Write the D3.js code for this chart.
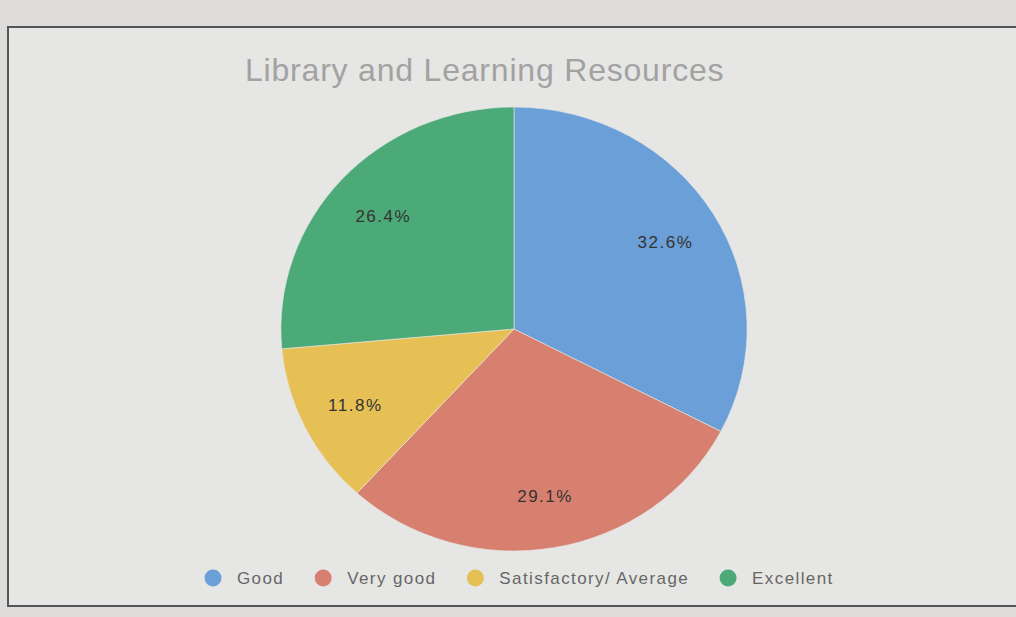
<!DOCTYPE html>
<meta charset="utf-8">
<style>
body { margin: 0; background: #dcdcda; }
text { font-family: Arial, "Liberation Sans", sans-serif; }
</style>
<body>
<div id="chart"></div>
</body>
<script src="https://cdn.jsdelivr.net/npm/d3@7"></script>
<script>
// chart data
var categories = ["Good", "Very good", "Satisfactory/ Average", "Excellent"];
var values = [32.6, 29.1, 11.8, 26.4];
var labels = ["32.6%", "29.1%", "11.8%", "26.4%"];
var colours = ["#6a9fd8", "#d8806f", "#e7c055", "#4caa78"];
var title = "Library and Learning Resources";

var width = 1016, height = 617;
var cx = 514, cy = 329, radius = 222;

var svg = d3.select("#chart").append("svg")
    .attr("width", width)
    .attr("height", height);

// card with frame like the photographed screen
svg.append("rect")
    .attr("x", 0).attr("y", 0)
    .attr("width", width).attr("height", height)
    .attr("fill", "#dedddb");
svg.append("rect")
    .attr("x", 8).attr("y", 27)
    .attr("width", width + 20).attr("height", 579)
    .attr("fill", "#e6e6e4")
    .attr("stroke", "#555")
    .attr("stroke-width", 2);

svg.append("text")
    .attr("x", 245).attr("y", 81)
    .attr("font-size", 32)
    .attr("letter-spacing", 0.8)
    .attr("fill", "#a2a2a2")
    .text(title);

var color = d3.scaleOrdinal().domain(categories).range(colours);

var pie = d3.pie().sort(null).value(function(d) { return d.value; });
var data = categories.map(function(c, i) {
  return {name: c, value: values[i], label: labels[i]};
});

var arc = d3.arc().innerRadius(0).outerRadius(radius);
var labelArc = d3.arc().innerRadius(radius * 0.76).outerRadius(radius * 0.76);

// the photo stretches the pie a little sideways
var g = svg.append("g")
    .attr("transform", "translate(" + cx + "," + cy + ") scale(1.05,1)");

g.selectAll("path.slice")
    .data(pie(data))
  .enter().append("path")
    .attr("class", "slice")
    .attr("d", arc)
    .attr("fill", function(d) { return color(d.data.name); })
    .attr("stroke", "#e6e6e4")
    .attr("stroke-width", 0.6);

svg.selectAll("text.pct")
    .data(pie(data))
  .enter().append("text")
    .attr("class", "pct")
    .attr("x", function(d) { return cx + labelArc.centroid(d)[0] * 1.05; })
    .attr("y", function(d) { return cy + labelArc.centroid(d)[1]; })
    .attr("text-anchor", "middle")
    .attr("dy", "0.4em")
    .attr("font-size", 17)
    .attr("letter-spacing", 1.5)
    .attr("fill", "#333")
    .text(function(d) { return d.data.label; });

// legend row under the pie
var legend = svg.append("g").attr("class", "legend");
var items = legend.selectAll("g")
    .data(categories)
  .enter().append("g");

items.append("circle")
    .attr("r", 8.5)
    .attr("cy", -6)
    .attr("fill", function(d) { return color(d); });
items.append("text")
    .attr("x", 24)
    .attr("font-size", 17)
    .attr("letter-spacing", 1.4)
    .attr("fill", "#666")
    .text(function(d) { return d; });

var xPos = 0;
items.each(function() {
  var w = d3.select(this).select("text").node().getComputedTextLength();
  d3.select(this).attr("transform", "translate(" + xPos + ",0)");
  xPos += 24 + w + 39;
});
legend.attr("transform", "translate(213,584)");
</script>
